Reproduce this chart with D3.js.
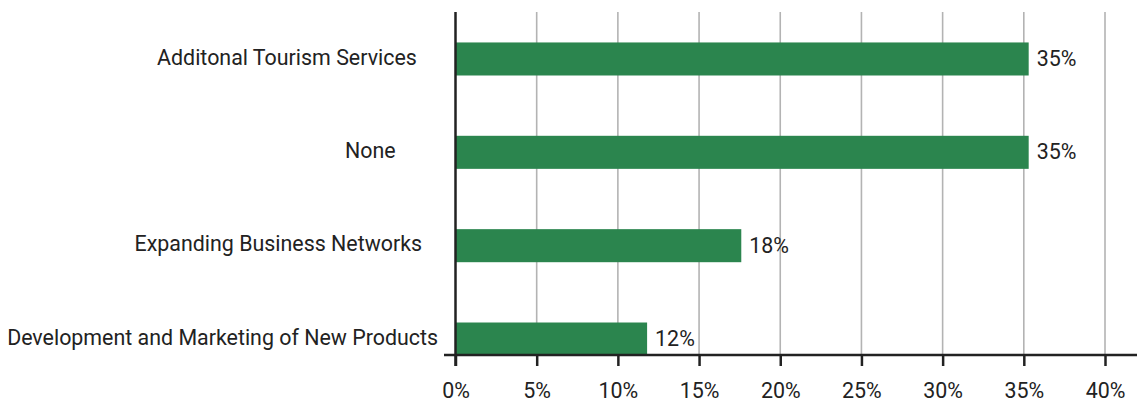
<!DOCTYPE html>
<html>
<head>
<meta charset="utf-8">
<script src="https://cdn.jsdelivr.net/npm/d3@7"></script>
<style>
  html, body { margin: 0; padding: 0; background: #fff; }
  svg text { font-family: Roboto, "Noto Sans", sans-serif; fill: #222; white-space: pre; }
</style>
</head>
<body>
<svg id="chart" width="1137" height="403"></svg>
<script>
const categories = [
  "Additonal Tourism Services    ",
  "None        ",
  "Expanding Business Networks   ",
  "Development and Marketing of New Products"
];
const values = [35.3, 35.3, 17.6, 11.8];
const valueLabels = ["35%", "35%", "18%", "12%"];
const tickValues = [0, 5, 10, 15, 20, 25, 30, 35, 40];
const tickLabels = ["0%", "5%", "10%", "15%", "20%", "25%", "30%", "35%", "40%"];

const svg = d3.select("#chart");
const x = d3.scaleLinear().domain([0, 40]).range([455.5, 1105]);
const y = d3.scaleBand().domain(categories).range([12.3, 385.7])
  .paddingInner(0.646).paddingOuter(0.323);
const axisY = 355;
const fs = 21.4;

// gridlines
svg.append("g").selectAll("line").data(tickValues.slice(1)).join("line")
  .attr("x1", d => x(d)).attr("x2", d => x(d))
  .attr("y1", 12).attr("y2", axisY)
  .attr("stroke", "#b3b3b3").attr("stroke-width", 1.6);

// bars
svg.append("g").selectAll("rect").data(values).join("rect")
  .attr("x", x(0))
  .attr("y", (d, i) => y(categories[i]))
  .attr("width", d => x(d) - x(0))
  .attr("height", y.bandwidth())
  .attr("fill", "#2b854e");

// value labels
svg.append("g").selectAll("text").data(values).join("text")
  .attr("x", d => x(d) + 8)
  .attr("y", (d, i) => y(categories[i]) + y.bandwidth() / 2)
  .attr("dy", "0.33em")
  .attr("font-size", fs)
  .text((d, i) => valueLabels[i]);

// category labels
svg.append("g").selectAll("text").data(categories).join("text")
  .attr("x", 438)
  .attr("y", d => y(d) + y.bandwidth() / 2)
  .attr("dy", "0.27em")
  .attr("text-anchor", "end")
  .attr("font-size", fs)
  .text(d => d);

// x axis
const xAxis = d3.axisBottom(x).tickValues(tickValues)
  .tickFormat((d, i) => tickLabels[i]).tickSize(11).tickPadding(16.5);
const gx = svg.append("g").attr("transform", `translate(0,${axisY})`).call(xAxis);
gx.select(".domain").remove();
gx.selectAll(".tick line").attr("stroke", "#222").attr("stroke-width", 2.5);
gx.selectAll(".tick text").attr("font-size", fs).attr("font-family", "Roboto").attr("fill", "#222");
gx.append("line").attr("x1", 444).attr("x2", 1137).attr("y1", 0).attr("y2", 0)
  .attr("stroke", "#222").attr("stroke-width", 2.5);

// y axis line
svg.append("line").attr("x1", x(0)).attr("x2", x(0)).attr("y1", 12).attr("y2", axisY + 11)
  .attr("stroke", "#222").attr("stroke-width", 2.5);
</script>
</body>
</html>
